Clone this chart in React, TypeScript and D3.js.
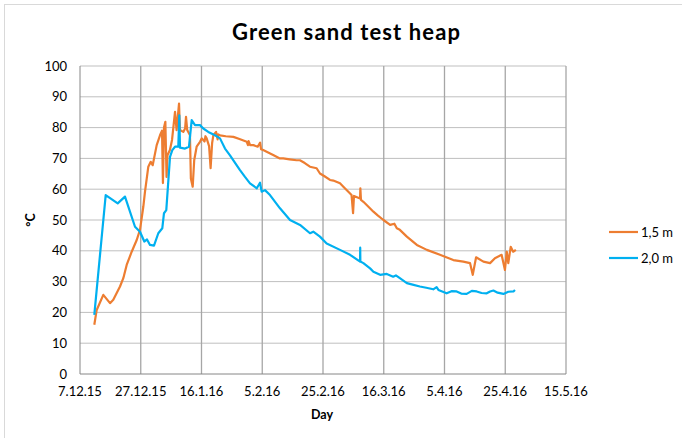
import React from "react";
import * as d3 from "d3";

const startDate = Date.UTC(2015, 11, 7);
const tickLabels = ["7.12.15", "27.12.15", "16.1.16", "5.2.16", "25.2.16", "16.3.16", "5.4.16", "25.4.16", "15.5.16"];
const tickDays = [0, 20, 40, 60, 80, 100, 120, 140, 160];
const yTicks = [0, 10, 20, 30, 40, 50, 60, 70, 80, 90, 100];
const seriesNames = ["1,5 m", "2,0 m"];
const seriesColors = ["#ED7D31", "#00B0F0"];

// 1,5 m (days since 7.12.15, °C)
const days15 = [4.71, 5.5, 7.67, 9.88, 10.96, 13.17, 14.26, 15.37, 17.02, 18.67, 19.75, 20.84, 21.4, 22.49, 23.28, 23.93, 25.25, 26.34, 27.0, 27.3, 27.65, 28.1, 28.5, 28.8, 29.6, 30.3, 31.28, 31.8, 32.6, 32.9, 34.0, 34.6, 34.9, 35.3, 36.2, 36.5, 37.1, 37.6, 38.4, 39.5, 40.1, 41.0, 41.3, 41.7, 42.5, 43.0, 43.5, 43.9, 44.8, 45.3, 45.5, 46.1, 48.0, 50.5, 52.5, 54.9, 55.3, 55.5, 56.0, 57.1, 58.5, 59.3, 59.6, 60.3, 62.6, 63.6, 65.8, 66.9, 69.0, 71.3, 72.4, 74.0, 75.7, 77.9, 79.0, 80.5, 82.3, 83.4, 85.6, 86.7, 89.4, 89.9, 90.2, 92.2, 92.3, 92.5, 93.3, 96.6, 98.0, 99.9, 102.1, 103.5, 104.3, 105.3, 107.6, 110.9, 114.2, 118.5, 122.9, 126.2, 128.4, 129.3, 130.4, 132.8, 135.0, 136.6, 138.8, 139.9, 140.5, 141.0, 141.8, 142.6, 143.5];
const temps15 = [16, 20.8, 25.7, 23, 24.1, 28.4, 31.1, 35.4, 39.7, 43.5, 46.8, 54.3, 59.2, 67.3, 68.9, 67.8, 74.3, 77.5, 79, 62, 80, 81.9, 64, 71, 72.7, 76, 85.1, 79.2, 87.8, 79.2, 78.6, 79.7, 83.5, 79.2, 77.5, 63.5, 60.8, 69.4, 73.8, 75.4, 76.5, 75.5, 77.2, 76.5, 74, 66.8, 75, 77.5, 78.6, 76.2, 77.8, 77.5, 77.2, 77, 76.3, 75.4, 74.3, 75.6, 74.3, 74.3, 73.8, 75.1, 73, 72.7, 71.6, 71.1, 70, 70, 69.7, 69.4, 69.4, 68.5, 67.3, 66.8, 65.1, 64.2, 63, 62.8, 61.9, 60.8, 58.1, 52.2, 57.8, 57, 60.3, 56.5, 55.9, 52.7, 51.5, 50, 48.4, 48.8, 47.3, 46.8, 44.6, 41.9, 40.3, 38.7, 37, 36.5, 36, 32.2, 37.9, 36.5, 36, 37.6, 38.7, 33.8, 39.7, 36, 41.3, 39.7, 40.3];

// 2,0 m (days since 7.12.15, °C)
const days20 = [4.71, 8.46, 12.41, 14.81, 18.11, 19.75, 21.17, 22.06, 23.05, 24.36, 25.78, 27.09, 27.65, 28.41, 29.63, 30.39, 31.28, 32.36, 32.69, 32.92, 34.57, 35.88, 36.77, 37.86, 39.51, 40.59, 42.24, 44.44, 46.09, 47.74, 49.38, 52.67, 54.32, 55.97, 58.2, 59.26, 59.8, 60.9, 62.55, 65.84, 69.14, 72.43, 75.72, 76.8, 79.0, 81.2, 85.6, 88.9, 92.2, 92.25, 92.3, 93.3, 95.5, 96.6, 98.8, 101.0, 103.1, 104.0, 105.3, 107.6, 109.5, 111.9, 114.0, 116.3, 117.4, 118.0, 120.7, 122.3, 124.0, 125.5, 127.3, 129.0, 130.6, 132.2, 133.9, 135.0, 136.1, 137.5, 139.4, 141.0, 142.7, 143.2];
const temps20 = [19.2, 58.1, 55.4, 57.6, 47.8, 46.2, 43, 43.7, 41.9, 41.7, 45.7, 47.3, 52.2, 53.2, 70.5, 72.7, 73.8, 73.8, 84, 73.5, 73.2, 73.8, 82.4, 80.8, 80.8, 79.7, 78.6, 77.5, 76.5, 73.2, 71, 66.2, 64, 61.9, 60.3, 62.1, 59.2, 59.7, 58.1, 53.8, 50, 48.4, 45.7, 46.2, 44.6, 42.4, 40.3, 38.7, 36.5, 41, 36.5, 36, 34.3, 33.2, 32.2, 32.5, 31.6, 32.0, 31.1, 29.5, 29.0, 28.4, 28.0, 27.5, 28.2, 27.3, 26.2, 26.9, 26.8, 26.1, 26, 27.0, 26.8, 26.3, 26.2, 26.8, 27.1, 26.4, 26, 26.7, 26.8, 27.3];

const W = 682;
const H = 438;
const font = "Lato, 'Liberation Sans', sans-serif";

export default function App() {
  const dayMs = 86400000;
  const toDate = (d: number) => new Date(startDate + d * dayMs);
  const x = d3.scaleUtc().domain([toDate(0), toDate(160)]).range([80, 566]);
  const y = d3.scaleLinear().domain([0, 100]).range([374, 66]);
  const line = d3
    .line<[number, number]>()
    .x((d) => x(toDate(d[0])))
    .y((d) => y(d[1]));
  const s15 = days15.map((d, i) => [d, temps15[i]] as [number, number]);
  const s20 = days20.map((d, i) => [d, temps20[i]] as [number, number]);
  const series = [s15, s20];

  return (
    <svg width={W} height={H} style={{ position: "absolute", left: 0, top: 0, background: "#fff" }} fontFamily={font}>
      <rect x={0} y={0} width={W} height={H} fill="#fff" />
      <rect x={4.5} y={4.5} width={W + 20} height={H + 20} fill="none" stroke="#D9D9D9" />
      {/* grid */}
      {yTicks.slice(1).map((t) => (
        <line key={"h" + t} x1={80} x2={566} y1={y(t)} y2={y(t)} stroke="#BFBFBF" strokeWidth={1} />
      ))}
      {tickDays.slice(1).map((t) => (
        <line key={"v" + t} x1={x(toDate(t))} x2={x(toDate(t))} y1={66} y2={374} stroke="#A6A6A6" strokeWidth={1.3} />
      ))}
      {/* axes */}
      <line x1={80} x2={80} y1={66} y2={374} stroke="#868686" />
      <line x1={80} x2={566} y1={374} y2={374} stroke="#868686" />
      {yTicks.map((t) => (
        <text key={"yt" + t} x={67} y={y(t) + 4.5} textAnchor="end" fontSize={13} fill="#000">
          {t}
        </text>
      ))}
      {tickDays.map((t, i) => (
        <text key={"xt" + t} x={x(toDate(t))} y={396} textAnchor="middle" fontSize={13} fill="#000">
          {tickLabels[i]}
        </text>
      ))}
      {/* series */}
      {series.map((s, i) => (
        <path key={"s" + i} d={line(s) || ""} fill="none" stroke={seriesColors[i]} strokeWidth={2.2} strokeLinejoin="round" />
      ))}
      {/* titles */}
      <text x={346} y={40} textAnchor="middle" fontSize={22} fontWeight="bold" fill="#000" textLength={228} lengthAdjust="spacing">
        Green sand test heap
      </text>
      <text x={322} y={419} textAnchor="middle" fontSize={12.5} fontWeight="bold" fill="#000">
        Day
      </text>
      <text transform="translate(35,220) rotate(-90)" textAnchor="middle" fontSize={12.5} fontWeight="bold" fill="#000">
        °C
      </text>
      {/* legend */}
      {seriesNames.map((n, i) => (
        <g key={"lg" + i}>
          <line x1={609} x2={638} y1={232 + i * 26} y2={232 + i * 26} stroke={seriesColors[i]} strokeWidth={2.2} />
          <text x={641} y={232 + i * 26 + 4.5} fontSize={13} fill="#000">
            {n}
          </text>
        </g>
      ))}
    </svg>
  );
}
